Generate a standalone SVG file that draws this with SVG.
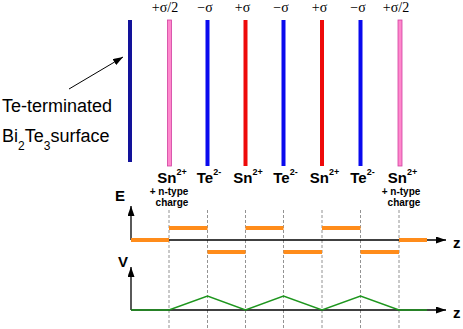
<svg xmlns="http://www.w3.org/2000/svg" width="463" height="329" viewBox="0 0 463 329">
<defs>
<style>
.sig{font-family:"Liberation Serif",serif;font-size:14px;fill:#000;text-anchor:middle}
.ion{font-family:"Liberation Sans",Arial,sans-serif;font-size:15px;font-weight:bold;fill:#000;text-anchor:middle}
.sup{font-size:9px}
.nt{font-family:"Liberation Sans",Arial,sans-serif;font-size:10px;font-weight:bold;fill:#000;text-anchor:middle}
.lbl{font-family:"Liberation Sans",Arial,sans-serif;font-size:18px;fill:#000}
.ax{font-family:"Liberation Sans",Arial,sans-serif;font-size:15px;font-weight:bold;fill:#000}
.dash{stroke:#777;stroke-width:0.8;stroke-dasharray:3,2;fill:none}
.axis{stroke:#000;stroke-width:1.3;fill:none}
.lev{stroke:#ff8c1a;stroke-width:4;fill:none}
.pot{stroke:#1e961e;stroke-width:1.5;fill:none}
.pink{fill:#ff88cc;stroke:#d040a0;stroke-width:0.8}
.blue{fill:#0a0aee}
.red{fill:#ee0a0a}
</style>
<marker id="ah" markerWidth="10" markerHeight="7" refX="10" refY="3.5" orient="auto" markerUnits="userSpaceOnUse">
<path d="M0,0 L10,3.5 L0,7 Z" fill="#000"/>
</marker>
</defs>

<g id="surface">
<rect x="128" y="20" width="4" height="142" fill="#12129a"/>
<text class="lbl" x="2" y="112">Te-terminated</text>
<text class="lbl" x="2" y="142">Bi<tspan font-size="12" dy="8">2</tspan><tspan dy="-8">Te</tspan><tspan font-size="12" dy="8">3</tspan><tspan dy="-8">surface</tspan></text>
</g>

<g id="layer1">
<rect class="pink" x="167.5" y="20" width="4" height="146"/>
<text class="sig" x="165" y="12">+σ/2</text>
<text class="ion" x="172" y="183">Sn<tspan class="sup" dy="-8">2+</tspan></text>
<text class="nt" x="169" y="194.5">+ n-type</text>
<text class="nt" x="172" y="206">charge</text>
</g>
<g id="layer2">
<rect class="blue" x="205.5" y="20" width="4" height="146"/>
<text class="sig" x="205" y="12">−σ</text>
<text class="ion" x="209" y="183">Te<tspan class="sup" dy="-8">2-</tspan></text>
</g>
<g id="layer3">
<rect class="red" x="243.5" y="20" width="4" height="146"/>
<text class="sig" x="242.5" y="12">+σ</text>
<text class="ion" x="248" y="183">Sn<tspan class="sup" dy="-8">2+</tspan></text>
</g>
<g id="layer4">
<rect class="blue" x="281.5" y="20" width="4" height="146"/>
<text class="sig" x="281" y="12">−σ</text>
<text class="ion" x="285.5" y="183">Te<tspan class="sup" dy="-8">2-</tspan></text>
</g>
<g id="layer5">
<rect class="red" x="320" y="20" width="4" height="146"/>
<text class="sig" x="319.5" y="12">+σ</text>
<text class="ion" x="324.5" y="183">Sn<tspan class="sup" dy="-8">2+</tspan></text>
</g>
<g id="layer6">
<rect class="blue" x="358.5" y="20" width="4" height="146"/>
<text class="sig" x="358" y="12">−σ</text>
<text class="ion" x="362.5" y="183">Te<tspan class="sup" dy="-8">2-</tspan></text>
</g>
<g id="layer7">
<rect class="pink" x="398" y="20" width="4" height="146"/>
<text class="sig" x="396" y="12">+σ/2</text>
<text class="ion" x="402.5" y="183">Sn<tspan class="sup" dy="-8">2+</tspan></text>
<text class="nt" x="401" y="194.5">+ n-type</text>
<text class="nt" x="404" y="206">charge</text>
</g>

<g id="plots">
<g class="dash">
<line x1="169" y1="210" x2="169" y2="329"/>
<line x1="207.5" y1="210" x2="207.5" y2="329"/>
<line x1="245.5" y1="210" x2="245.5" y2="329"/>
<line x1="283.5" y1="210" x2="283.5" y2="329"/>
<line x1="322" y1="210" x2="322" y2="329"/>
<line x1="360.5" y1="210" x2="360.5" y2="329"/>
<line x1="399" y1="210" x2="399" y2="329"/>
</g>
<line class="axis" x1="131" y1="240" x2="131" y2="206" marker-end="url(#ah)"/>
<line class="axis" x1="131" y1="240" x2="446" y2="240" marker-end="url(#ah)"/>
<line class="axis" x1="131" y1="310" x2="131" y2="267" marker-end="url(#ah)"/>
<line class="axis" x1="131" y1="310" x2="446" y2="310" marker-end="url(#ah)"/>
<text class="ax" x="115" y="201">E</text>
<text class="ax" x="118" y="267">V</text>
<text class="ax" x="453" y="248">z</text>
<text class="ax" x="453" y="318">z</text>
<g class="lev">
<line x1="131" y1="240" x2="169" y2="240"/>
<line x1="169" y1="228" x2="207.5" y2="228"/>
<line x1="207.5" y1="252" x2="245.5" y2="252"/>
<line x1="245.5" y1="228" x2="283.5" y2="228"/>
<line x1="283.5" y1="252" x2="322" y2="252"/>
<line x1="322" y1="228" x2="360.5" y2="228"/>
<line x1="360.5" y1="252" x2="399" y2="252"/>
<line x1="399" y1="240" x2="427" y2="240"/>
</g>
<polyline class="pot" points="131,310 169,310 207.5,296 245.5,310 283.5,296 322,310 360.5,296 399,310 427,310"/>
</g>

<g id="connectors">
<line x1="69" y1="89" x2="123" y2="57" stroke="#000" stroke-width="1" marker-end="url(#ah)"/>
</g>
</svg>
